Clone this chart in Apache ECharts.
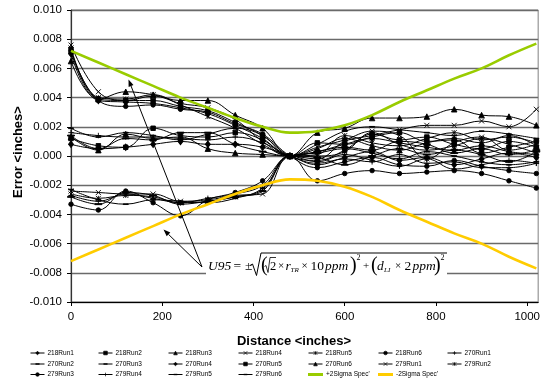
<!DOCTYPE html>
<html><head><meta charset="utf-8">
<script src="https://cdn.jsdelivr.net/npm/echarts@6/dist/echarts.min.js"></script>
<style>html,body{margin:0;padding:0;background:#fff}#c{width:543px;height:388px}</style>
</head><body><div id="c"></div>
<script>
// ---------------- DATA ----------------
const distances = [0,60,120,180,240,300,360,420,480,540,600,660,720,780,840,900,960,1020];
const xTickInterval = 200;
const yTickInterval = 0.002;

const r218Run1 = [0.0070,0.0038,0.0037,0.0036,0.0033,0.0029,0.0021,0.0012,0,0.0003,0.0008,0.0012,0.0009,0.0006,0.0004,0.0007,0.0003,0.0001];
const r218Run2 = [0.0073,0.0039,0.0038,0.0038,0.0034,0.0031,0.0023,0.0014,0,-0.0003,0.0004,0.0015,0.0011,0.0013,0.0008,0.0005,0.0010,0.0006];
const r218Run3 = [0.0065,0.0039,0.0044,0.0042,0.0038,0.0038,0.0028,0.0019,0,0.0016,0.0019,0.0026,0.0026,0.0027,0.0032,0.0028,0.0027,0.0021];
const r218Run4 = [0.0076,0.0044,0.0038,0.0041,0.0036,0.0033,0.0025,0.0010,0,0.0006,0.0011,0.0017,0.0014,-0.0002,0.0009,0.0013,0.0004,0.0008];
const r218Run5 = [0.0074,0.0040,0.0039,0.0042,0.0035,0.0027,0.0019,0.0008,0,0.0001,0.0014,0.0009,0.0007,0.0012,0.0016,0.0011,0.0013,0.0009];
const r218Run6 = [0.0071,0.0038,0.0034,0.0035,0.0032,0.0030,0.0022,0.0015,0,-0.0008,-0.0004,-0.0001,-0.0006,-0.0007,-0.0003,-0.0007,-0.0010,-0.0012];
const r270Run1 = [0.0016,0.0014,0.0013,0.0013,0.0012,0.0011,0.0013,0.0009,0,-0.0005,-0.0002,-0.0004,0.0001,-0.0005,-0.0004,-0.0008,-0.0008,-0.0005];
const r270Run2 = [0.0019,0.0013,0.0016,0.0014,0.0011,0.0015,0.0019,0.0014,0,0.0008,0.0017,0.0020,0.0018,0.0016,0.0014,0.0017,0.0015,0.0012];
const r270Run3 = [0.0014,0.0005,0.0012,0.0011,0.0016,0.0016,0.0008,0.0003,0,0.0003,0.0006,0.0004,0.0010,0.0008,0.0002,0.0005,0.0001,0.0004];
const r270Run4 = [0.0008,0.0005,0.0006,0.0008,0.0010,0.0008,0.0008,0.0006,0,-0.0006,-0.0001,0.0003,-0.0003,-0.0001,-0.0006,-0.0002,0.0002,-0.0001];
const r270Run5 = [0.0012,0.0007,0.0006,0.0019,0.0014,0.0013,0.0016,0.0011,0,0.0009,0.0008,0.0013,0.0016,0.0010,0.0011,0.0002,0.0006,0.0010];
const r270Run6 = [0.0013,0.0004,0.0015,0.0012,0.0013,0.0005,0.0002,0.0001,0,0.0005,0.0012,0.0007,0.0004,0.0009,0.0012,0.0009,0.0014,0.0007];
const r279Run1 = [-0.0024,-0.0025,-0.0026,-0.0026,-0.0031,-0.0030,-0.0027,-0.0026,0,-0.0002,0.0010,0.0014,0.0018,0.0021,0.0021,0.0024,0.0020,0.0032];
const r279Run2 = [-0.0026,-0.0029,-0.0027,-0.0028,-0.0032,-0.0031,-0.0028,-0.0023,0,0.0000,0.0003,0.0016,0.0008,0.0004,0.0007,0.0012,0.0008,0.0002];
const r279Run3 = [-0.0033,-0.0037,-0.0024,-0.0032,-0.0041,-0.0030,-0.0025,-0.0017,0,-0.0017,-0.0012,-0.0010,-0.0012,-0.0011,-0.0010,-0.0012,-0.0017,-0.0022];
const r279Run4 = [-0.0027,-0.0031,-0.0026,-0.0029,-0.0032,-0.0029,-0.0026,-0.0020,0,-0.0004,0.0001,-0.0003,-0.0007,-0.0002,-0.0009,-0.0006,-0.0003,-0.0005];
const r279Run5 = [-0.0023,-0.0030,-0.0033,-0.0030,-0.0031,-0.0032,-0.0029,-0.0022,0,0.0002,0.0005,0.0002,-0.0002,0.0003,0.0000,-0.0004,-0.0006,-0.0004];
const r279Run6 = [-0.0028,-0.0033,-0.0025,-0.0027,-0.0033,-0.0031,-0.0028,-0.0024,0,-0.0001,-0.0006,0.0000,0.0005,0.0001,0.0004,0.0001,-0.0004,0.0003];
const plus2Sigma  = [0.0072,0.0064,0.0056,0.0048,0.0040,0.0033,0.0026,0.0020,0.0016,0.0017,0.0021,0.0028,0.0037,0.0045,0.0053,0.0060,0.0069,0.0077];
const minus2Sigma = [-0.0072,-0.0064,-0.0056,-0.0048,-0.0040,-0.0033,-0.0026,-0.0020,-0.0016,-0.0017,-0.0021,-0.0028,-0.0037,-0.0045,-0.0053,-0.0060,-0.0069,-0.0077];

const runNames = ['218Run1','218Run2','218Run3','218Run4','218Run5','218Run6',
                  '270Run1','270Run2','270Run3','270Run4','270Run5','270Run6',
                  '279Run1','279Run2','279Run3','279Run4','279Run5','279Run6'];
const runValues = [r218Run1,r218Run2,r218Run3,r218Run4,r218Run5,r218Run6,
                   r270Run1,r270Run2,r270Run3,r270Run4,r270Run5,r270Run6,
                   r279Run1,r279Run2,r279Run3,r279Run4,r279Run5,r279Run6];
const runMarkers = ['diamond','square','triangle','x','star','circle',
                    'plus','dashS','dashL','diamond','square','triangle',
                    'x','star','circle','plus','dashS','dashL'];
const specNames = ["+2Sigma Spec'", "-2Sigma Spec'"];

// ---------------- STYLE ----------------
const dashPath = 'path://M0,0L0,0M10,10L10,10M0,4.3L10,4.3L10,5.7L0,5.7Z';
const markerDefs = {
  diamond:  {symbol:'diamond', size:[5,6.5]},
  square:   {symbol:'rect', size:4.5},
  triangle: {symbol:'triangle', size:5.5},
  x:        {symbol:'path://M0,0L10,10M10,0L0,10', size:5},
  star:     {symbol:'path://M0,0L10,10M10,0L0,10M5,0L5,10', size:5},
  circle:   {symbol:'circle', size:4.5},
  plus:     {symbol:'path://M5,0L5,10M0,5L10,5', size:5.5},
  dashS:    {symbol:dashPath, size:5},
  dashL:    {symbol:dashPath, size:7}
};

const series = runNames.map((n,i) => {
  const m = markerDefs[runMarkers[i]];
  return {
    name:n, type:'line', smooth:0.4, color:'#000',
    data: distances.map((d,k) => [d, runValues[i][k]]),
    symbol:m.symbol, symbolSize:m.size, showSymbol:true,
    lineStyle:{color:'#000', width:1},
    itemStyle:{color:'#000', borderColor:'#000', borderWidth:0.9},
    z:3
  };
});
series.push({
  name:specNames[0], type:'line', smooth:0.4, color:'#99CC00',
  data: distances.map((d,k)=>[d, plus2Sigma[k]]),
  symbol:'none', lineStyle:{color:'#99CC00', width:2.6}, z:4
});
series.push({
  name:specNames[1], type:'line', smooth:0.4, color:'#FFCC00',
  data: distances.map((d,k)=>[d, minus2Sigma[k]]),
  symbol:'none', lineStyle:{color:'#FFCC00', width:2.6}, z:4
});

// legends: 7 columns x 3 rows
const legendCols = [30, 98, 168, 238, 308, 378, 447];
const legendRows = [349.5, 360.5, 371];
const allNames = runNames.concat(specNames);
const legends = allNames.map((n,i) => {
  const isSpec = specNames.indexOf(n) >= 0;
  const o = {
    data:[n], left:legendCols[i%7], top:legendRows[Math.floor(i/7)],
    orient:'horizontal', padding:0, itemGap:0,
    itemWidth:isSpec?15:14, itemHeight:isSpec?3:4.5,
    selectedMode:false,
    itemStyle: isSpec ? {borderWidth:0} : {color:'#000', borderColor:'#000', borderWidth:0.7},
    lineStyle: isSpec ? {} : {color:'#000', width:1},
    textStyle:{fontFamily:'Liberation Sans', fontSize:6.5, color:'#000', padding:[0,0,0,-2]}
  };
  if (isSpec) o.icon = 'rect';
  return o;
});

// formula & arrows (annotation)
const serif = 'Liberation Serif';
const baseY = 266.5;
function t(x, text, size, italic, dy) {
  return {type:'text', z:101, x:x, y:baseY + (dy||0),
    style:{text:text, fill:'#000', font:(italic?'italic ':'') + size + 'px "' + serif + '"',
           textAlign:'left', textVerticalAlign:'middle', verticalAlign:'middle'}};
}
function arrow(x1,y1,x2,y2){
  const ang = Math.atan2(y2-y1, x2-x1), L=7, W=2.6;
  const bx = x2 - L*Math.cos(ang), by = y2 - L*Math.sin(ang);
  const px = -Math.sin(ang)*W, py = Math.cos(ang)*W;
  return [
    {type:'line', z:100, shape:{x1:x1,y1:y1,x2:bx,y2:by}, style:{stroke:'#000', lineWidth:1}},
    {type:'polygon', z:100, shape:{points:[[x2,y2],[bx+px,by+py],[bx-px,by-py]]}, style:{fill:'#000'}}
  ];
}
const graphics = [
  {type:'rect', z:99, shape:{x:206, y:254, width:241, height:25}, style:{fill:'#fff'}},
  t(208,'U95',13.5,true), t(233.5,'=',13.5,false), t(245,'±',13.5,false),
  {type:'polyline', z:101, shape:{points:[[250,265.5],[252.5,264],[256.5,275.5],[261,253],[447,253]]}, style:{stroke:'#000', lineWidth:1, fill:null}},
  t(261,'(',20,false,-1),
  {type:'polyline', z:101, shape:{points:[[264.5,266.5],[266,265.5],[268,272.5],[270,257.5],[276,257.5]]}, style:{stroke:'#000', lineWidth:0.8, fill:null}},
  t(270,'2',12.5,false,0.5),
  t(278,'×',11,false), t(285.5,'r',13.5,true), t(290.5,'TR',7,true,3.5),
  t(301.5,'×',11,false), t(310.5,'10',13.5,false), t(325,'ppm',13.5,true),
  t(350,')',20,false,-1), t(356.5,'2',8,false,-8.5),
  t(363,'+',11,false),
  t(371,'(',20,false,-1), t(377,'d',13.5,true), t(384,'LI',7,true,3.5),
  t(395,'×',11,false), t(404.5,'2',13.5,false), t(412.5,'ppm',13.5,true),
  t(434,')',20,false,-1), t(440.5,'2',8,false,-8.5),
  {type:'text', z:101, x:294, y:341, style:{text:'Distance <inches>', fill:'#000', font:'bold 13px "Liberation Sans"', textAlign:'center', textVerticalAlign:'middle', verticalAlign:'middle'}},
  {type:'text', z:101, x:18, y:152, rotation:Math.PI/2, style:{text:'Error <inches>', fill:'#000', font:'bold 13px "Liberation Sans"', textAlign:'center', textVerticalAlign:'middle', verticalAlign:'middle'}}
].concat(arrow(202,267,128.5,79.5)).concat(arrow(202,267,163.5,229.5));

const chart = echarts.init(document.getElementById('c'), null, {renderer:'canvas'});
chart.setOption({
  animation:false,
  backgroundColor:'#fff',
  grid:{left:71, right:3, top:10, bottom:86, show:true, borderColor:'#808080', borderWidth:1, containLabel:false},
  xAxis:{type:'value', min:0, max:1024, interval:xTickInterval,
    axisLine:{show:true, onZero:false, lineStyle:{color:'#000', width:1.2}},
    axisTick:{show:true, length:4, inside:false, lineStyle:{color:'#000'}},
    axisLabel:{margin:9, fontFamily:'Liberation Sans', fontSize:11.5, color:'#000', showMaxLabel:false,
      formatter:v => String(v)},
    splitLine:{show:false}},
  yAxis:{type:'value', min:-0.01, max:0.01, interval:yTickInterval,
    axisLine:{show:true, onZero:false, lineStyle:{color:'#333', width:1.2}},
    axisTick:{show:true, length:4, inside:false, lineStyle:{color:'#000'}},
    axisLabel:{margin:9, fontFamily:'Liberation Sans', fontSize:11.5, color:'#000',
      formatter:v => v.toFixed(3)},
    splitLine:{show:true, lineStyle:{color:'#6a6a6a', width:1.4}}},
  legend:legends,
  series:series,
  graphic:graphics
});
</script></body></html>
